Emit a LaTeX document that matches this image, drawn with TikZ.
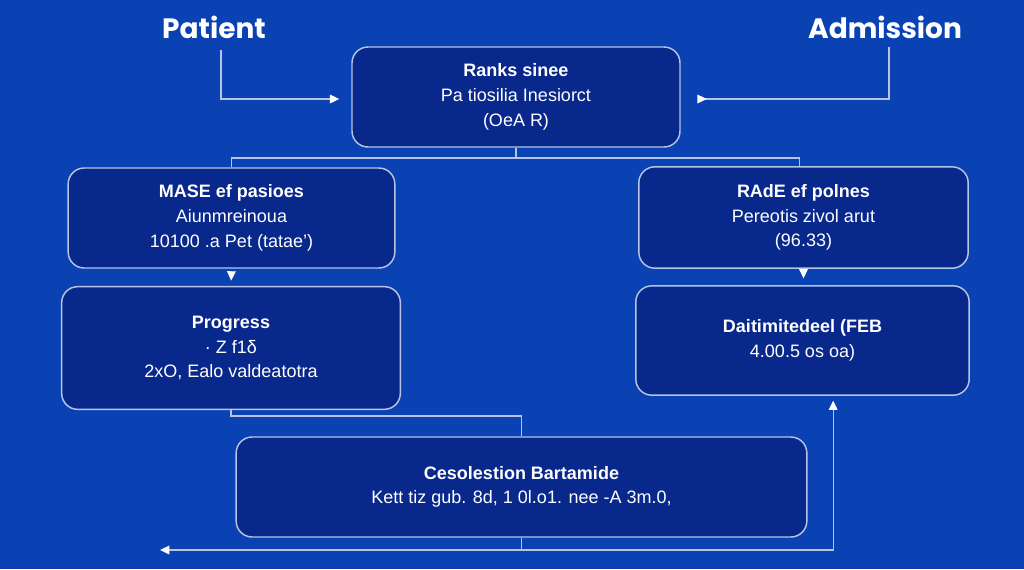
\documentclass[tikz,border=0pt]{standalone}
\usepackage{fontspec}
\setmainfont{Liberation Sans}
\newfontfamily\headfont{Poppins}
\usetikzlibrary{arrows.meta,positioning,calc}
\definecolor{bgblue}{RGB}{10,66,180}
\definecolor{boxnavy}{RGB}{8,40,140}
\definecolor{rimgray}{RGB}{182,196,228}

\tikzset{
  stage/.style={draw=rimgray, line width=1.1pt, fill=boxnavy, rounded corners=12pt,
    text=white, align=center, font=\fontsize{13.5}{18.5}\selectfont,
    inner sep=0pt},
  conn/.style={draw=rimgray, line width=0.9pt},
  wtip/.tip={Triangle[length=7pt,width=6.5pt,color=white]},
  tip/.style={-wtip},
  heading/.style={text=white, font=\headfont\bfseries\fontsize{21}{24}\selectfont}
}

\begin{document}
\begin{tikzpicture}[x=0.75pt, y=-0.75pt]
\useasboundingbox (0,0) rectangle (1024,569);
\fill[bgblue] (0,0) rectangle (1024,569);
% ---------- headings ----------
\node[heading] (pat) at (214,27) {Patient};
\node[heading] (adm) at (885,27) {Admission};
% ---------- stages ----------
\node[stage, minimum width=246pt, minimum height=75pt] (rank) at (516,97)
  {\textbf{Ranks sinee}\\Pa tiosilia Inesiorct\\(OeA R)};
\node[stage, minimum width=245pt, minimum height=75pt] (mase) at (231.5,218)
  {\textbf{MASE ef pasioes}\\Aiunmreinoua\\10100 .a Pet (tatae')};
\node[stage, minimum width=247pt, minimum height=76pt] (rade) at (803.5,217.5)
  {\textbf{RAdE ef polnes}\\Pereotis zivol arut\\(96.33)};
\node[stage, minimum width=254pt, minimum height=92pt] (prog) at (231,348)
  {\textbf{Progress}\\· Z f1δ\\2xO, Ealo valdeatotra};
\node[stage, minimum width=250pt, minimum height=82pt] (dait) at (802.5,340.5)
  {\textbf{Daitimitedeel (FEB}\\4.00.5 os oa)};
\node[stage, minimum width=428pt, minimum height=75pt] (cess) at (521.5,487)
  {\textbf{Cesolestion Bartamide}\\Kett tiz gub. 8d, 1 0l.o1. nee -A 3m.0,};
% ---------- connectors ----------
\coordinate (patdrop) at (221,50);
\coordinate (admdrop) at (889,47);
\coordinate (split) at (516,158);
\coordinate (exit) at (160,550);
\draw[conn, tip, shorten >=9pt] (patdrop) |- ([yshift=-1.5pt]rank.west);
\draw[conn, -{Triangle[reversed,length=7pt,width=6.5pt,color=white]}, shorten >=12.5pt]
  (admdrop) |- ([yshift=-1.5pt]rank.east);
\draw[conn] (rank.south) -- (split);
\draw[conn] (split) -| (mase.north);
\draw[conn] (split) -| ([xshift=-3pt]rade.north);
\draw[conn, tip, shorten <=3.5pt, shorten >=4pt] (mase.south) -- (prog.north);
\draw[conn, tip, shorten <=3.5pt, shorten >=5pt] (rade.south) -- (rade.south |- dait.north);
\draw[conn] (prog.south) -- ++(0,6) -| (cess.north);
\draw[conn, wtip-wtip, shorten <=3.5pt]
  ([xshift=23pt]dait.south) |- (exit);
\draw[conn] (cess.south) -- (cess.south |- exit);
\end{tikzpicture}
\end{document}
